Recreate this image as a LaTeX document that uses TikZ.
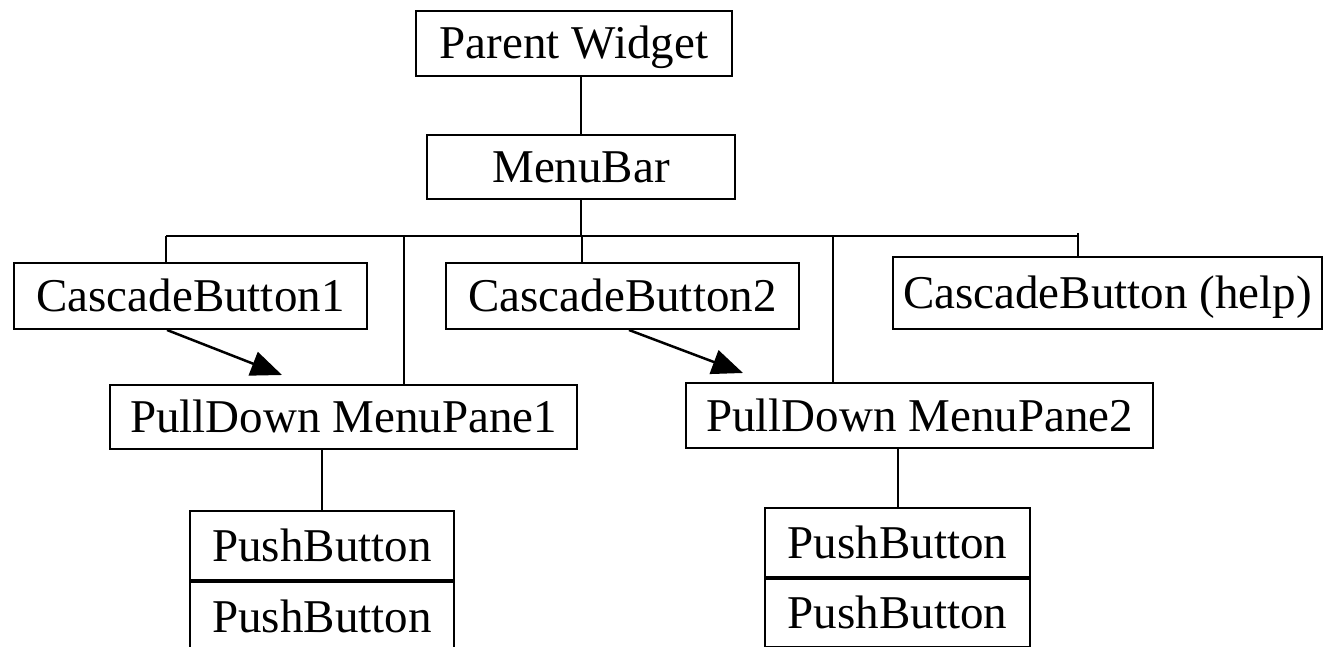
\documentclass[tikz,border=0pt]{standalone}
\usepackage{fontspec}
\setmainfont{Liberation Serif}
\usetikzlibrary{arrows.meta,calc}
\begin{document}
\begin{tikzpicture}[x=1pt,y=-1pt,
  every node/.style={font=\fontsize{47}{56}\selectfont},
  wbox/.style 2 args={draw, line width=2pt, inner sep=0pt, text height=31pt, text depth=0pt, minimum width=#1, minimum height=#2},
  conn/.style={line width=2pt},
  link/.style={line width=2.5pt, -{Triangle[length=31pt,width=25pt]}}]
\clip (0,0) rectangle (1325,647);
\fill[white] (0,0) rectangle (1325,647);
% nodes
\node[wbox={316pt}{65pt}] (pw) at (574,43.5) {Parent Widget};
\node[wbox={308pt}{64pt}] (mb) at (581,167) {MenuBar};
\node[wbox={353pt}{66pt}] (cb1) at (190.5,296) {CascadeButton1};
\node[wbox={353pt}{66pt}] (cb2) at (622.5,296) {CascadeButton2};
\node[wbox={429pt}{72pt}] (cbh) at (1107.5,293) {CascadeButton (help)};
\node[wbox={467pt}{64pt}] (pd1) at (343.5,417) {PullDown MenuPane1};
\node[wbox={467pt}{65pt}] (pd2) at (919.5,415.5) {PullDown MenuPane2};
\node[wbox={264pt}{69pt}] (pb1a) at (322,545.5) {PushButton};
\node[wbox={264pt}{70pt}, anchor=north] (pb1b) at (pb1a.south) {PushButton};
\node[wbox={265pt}{69pt}] (pb2a) at (897.5,542.5) {PushButton};
\node[wbox={265pt}{68pt}, anchor=north] (pb2b) at (pb2a.south) {PushButton};
% bus coordinates
\coordinate (busL) at (166,236);
\coordinate (busR) at (1078,236);
\coordinate (busT) at (1078,233);
\coordinate (d1) at (404,236);
\coordinate (d2) at (582,236);
\coordinate (d3) at (833,236);
% connectors
\draw[conn] (mb.north) -- (mb.north |- pw.south);
\draw[conn] (mb.south) -- (mb.south |- busL);
\draw[conn] (busL) -- (busR);
\draw[conn] (busL) -- (busL |- cb1.north);
\draw[conn] (d1) -- (d1 |- pd1.north);
\draw[conn] (d2) -- (d2 |- cb2.north);
\draw[conn] (d3) -- (d3 |- pd2.north);
\draw[conn] (busT) -- (busT |- cbh.north);
\draw[conn] (pb1a.north) -- (pb1a.north |- pd1.south);
\draw[conn] (pb2a.north) -- (pb2a.north |- pd2.south);
% arrows
\draw[link] ($(cb1.south)+(-23.5,0)$) -- ($(pd1.north)+(-61.5,-9)$);
\draw[link] ($(cb2.south)+(6.5,0)$) -- ($(pd2.north)+(-176.5,-9)$);
\end{tikzpicture}
\end{document}
